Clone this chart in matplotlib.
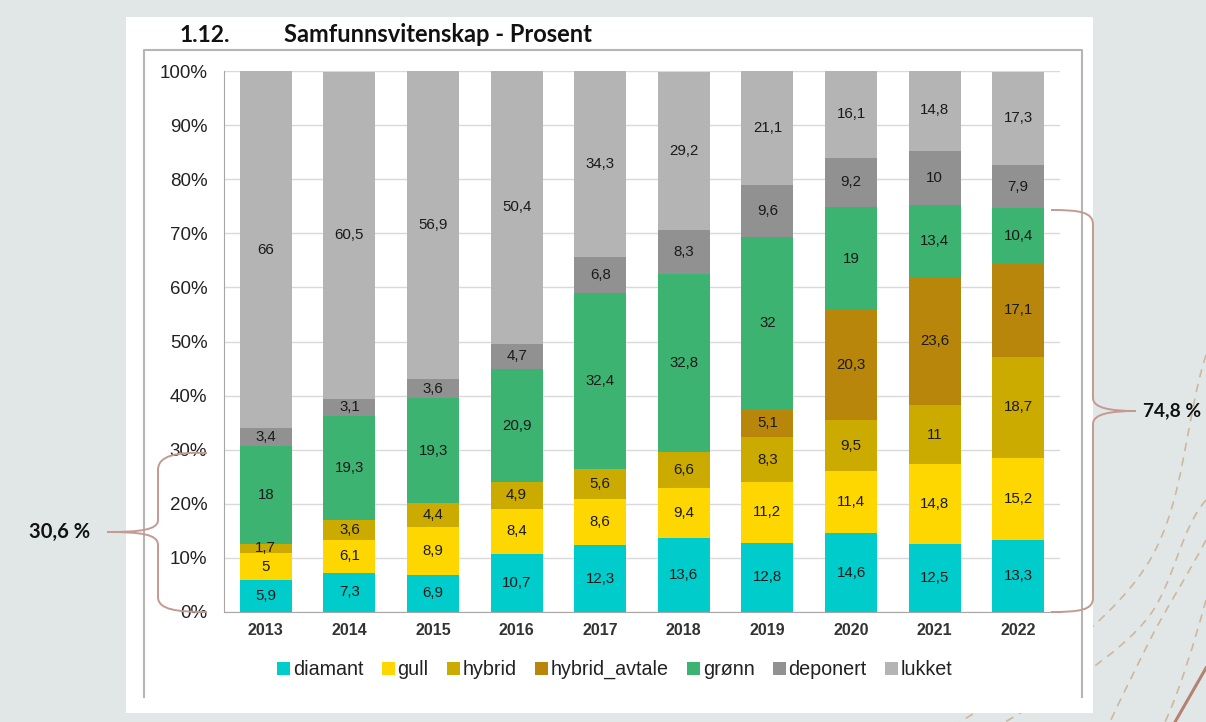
import matplotlib
matplotlib.use("Agg")
import matplotlib.pyplot as plt
import numpy as np
from matplotlib.path import Path
from matplotlib.patches import PathPatch, Rectangle

years = ["2013", "2014", "2015", "2016", "2017", "2018", "2019", "2020", "2021", "2022"]
series_names = ["diamant", "gull", "hybrid", "hybrid_avtale", "grønn", "deponert", "lukket"]
diamant = [5.9, 7.3, 6.9, 10.7, 12.3, 13.6, 12.8, 14.6, 12.5, 13.3]
gull = [5, 6.1, 8.9, 8.4, 8.6, 9.4, 11.2, 11.4, 14.8, 15.2]
hybrid = [1.7, 3.6, 4.4, 4.9, 5.6, 6.6, 8.3, 9.5, 11, 18.7]
hybrid_avtale = [0, 0, 0, 0, 0, 0, 5.1, 20.3, 23.6, 17.1]
gronn = [18, 19.3, 19.3, 20.9, 32.4, 32.8, 32, 19, 13.4, 10.4]
deponert = [3.4, 3.1, 3.6, 4.7, 6.8, 8.3, 9.6, 9.2, 10, 7.9]
lukket = [66, 60.5, 56.9, 50.4, 34.3, 29.2, 21.1, 16.1, 14.8, 17.3]
yticks = [0, 10, 20, 30, 40, 50, 60, 70, 80, 90, 100]
title_num = "1.12."
title_text = "Samfunnsvitenskap - Prosent"
left_note = "30,6 %"
right_note = "74,8 %"

colors = ["#00cccc", "#ffd700", "#ccab00", "#b8860b", "#3cb371", "#919191", "#b4b4b4"]
values = [diamant, gull, hybrid, hybrid_avtale, gronn, deponert, lukket]

W, H = 1206, 722
fig = plt.figure(figsize=(W / 100, H / 100), dpi=100)
fig.patch.set_facecolor("#e1e7e7")

bg = fig.add_axes([0, 0, 1, 1], zorder=0)
bg.set_xlim(0, W)
bg.set_ylim(H, 0)
bg.axis("off")

def curve(ax, pts, codes, **kw):
    ax.add_patch(PathPatch(Path(pts, codes), fill=False, **kw))

M, L, C4 = Path.MOVETO, Path.LINETO, Path.CURVE4
dash_kw = dict(edgecolor="#cdb89f", linewidth=1.2, linestyle=(0, (5, 4)))
curve(bg, [(1206, 355), (1185, 420), (1185, 500), (1150, 560),
           (1120, 610), (1060, 660), (960, 722)], [M, C4, C4, C4, C4, C4, C4], **dash_kw)
curve(bg, [(1206, 500), (1180, 530), (1175, 580), (1150, 615),
           (1120, 655), (1060, 690), (1005, 722)], [M, C4, C4, C4, C4, C4, C4], **dash_kw)
curve(bg, [(1206, 540), (1185, 580), (1165, 610), (1150, 640),
           (1135, 670), (1120, 700), (1110, 722)], [M, C4, C4, C4, C4, C4, C4], **dash_kw)
curve(bg, [(1206, 600), (1195, 640), (1180, 690), (1165, 722)], [M, C4, C4, C4], **dash_kw)
bg.plot([1206, 1175], [668, 722], color="#b58171", linewidth=2.2)

bg.add_patch(Rectangle((126, 17), 967, 696, facecolor="white", edgecolor="none"))
bg.plot([144, 144, 1082, 1082], [697, 50, 50, 697], color="#b5b5b5", linewidth=1.5)

bg.text(180, 35, title_num, fontsize=16.5, fontweight="bold", family="Lato",
        va="center", ha="left", color="#111111")
bg.text(284, 35, title_text, fontsize=17, fontweight="bold", family="Lato",
        va="center", ha="left", color="#111111")

ax = fig.add_axes([224 / W, 1 - 612 / H, (1060 - 224) / W, (612 - 71) / H], zorder=2)
ax.set_facecolor("none")
x = np.arange(len(years))
bottom = np.zeros(len(years))
for name, vals, col in zip(series_names, values, colors):
    v = np.array(vals, dtype=float)
    ax.bar(x, v, bottom=bottom, width=0.62, color=col, label=name, zorder=2)
    for xi, (b, h) in enumerate(zip(bottom, v)):
        if h > 0:
            lbl = ("%g" % h).replace(".", ",")
            ax.text(xi, b + h / 2, lbl, ha="center", va="center", fontsize=10.8,
                    family="Liberation Sans", color="#1a1a1a", zorder=3)
    bottom = bottom + v

ax.set_xlim(-0.5, len(years) - 0.5)
ax.set_ylim(0, 100)
ax.set_yticks(yticks)
ax.set_yticklabels([f"{t}%" for t in yticks], family="Liberation Sans", fontsize=13.5, color="#222222")
ax.set_xticks(x)
ax.set_xticklabels(years, family="Liberation Sans", fontsize=11.5, fontweight="bold", color="#333333")
ax.tick_params(axis="x", length=0, pad=8)
ax.tick_params(axis="y", length=0, pad=12)
ax.yaxis.grid(True, color="#d9d9d9", linewidth=1, zorder=0)
ax.set_axisbelow(True)
for s in ["top", "right"]:
    ax.spines[s].set_visible(False)
ax.spines["left"].set_color("#a6a6a6")
ax.spines["bottom"].set_color("#a6a6a6")

# legend laid out manually so all labels share one baseline
renderer = fig.canvas.get_renderer()
cursor = 277
for name, col in zip(series_names, colors):
    bg.add_patch(Rectangle((cursor, 662), 13, 13, facecolor=col, edgecolor="none", zorder=3))
    t = bg.text(cursor + 16, 675, name, fontsize=14.2, family="Liberation Sans",
                ha="left", va="baseline", color="#222222", zorder=3)
    wpx = t.get_window_extent(renderer=renderer).width
    cursor += 16 + wpx + 18

ov = fig.add_axes([0, 0, 1, 1], zorder=5)
ov.set_xlim(0, W)
ov.set_ylim(H, 0)
ov.axis("off")
ov.set_facecolor("none")
brace_kw = dict(edgecolor="#c49a92", linewidth=1.4)
curve(ov, [(207, 453), (178, 452), (158, 455), (158, 470), (158, 520),
           (158, 530), (140, 532), (107, 532),
           (140, 532), (158, 534), (158, 545), (158, 597),
           (158, 610), (178, 612), (207, 612)],
      [M, C4, C4, C4, L, C4, C4, C4, C4, C4, C4, L, C4, C4, C4], **brace_kw)
curve(ov, [(1051, 210), (1080, 210), (1093, 212), (1093, 225), (1093, 398),
           (1093, 408), (1110, 411), (1136, 411),
           (1110, 411), (1093, 414), (1093, 424), (1093, 598),
           (1093, 610), (1080, 612), (1051, 612)],
      [M, C4, C4, C4, L, C4, C4, C4, C4, C4, C4, L, C4, C4, C4], **brace_kw)
ov.text(29, 532, left_note, fontsize=14.5, fontweight="bold", family="Lato",
        ha="left", va="center", color="#111111")
ov.text(1143, 411, right_note, fontsize=13.8, fontweight="bold", family="Lato",
        ha="left", va="center", color="#111111")

fig.savefig("out.png", dpi=100, facecolor=fig.get_facecolor())
